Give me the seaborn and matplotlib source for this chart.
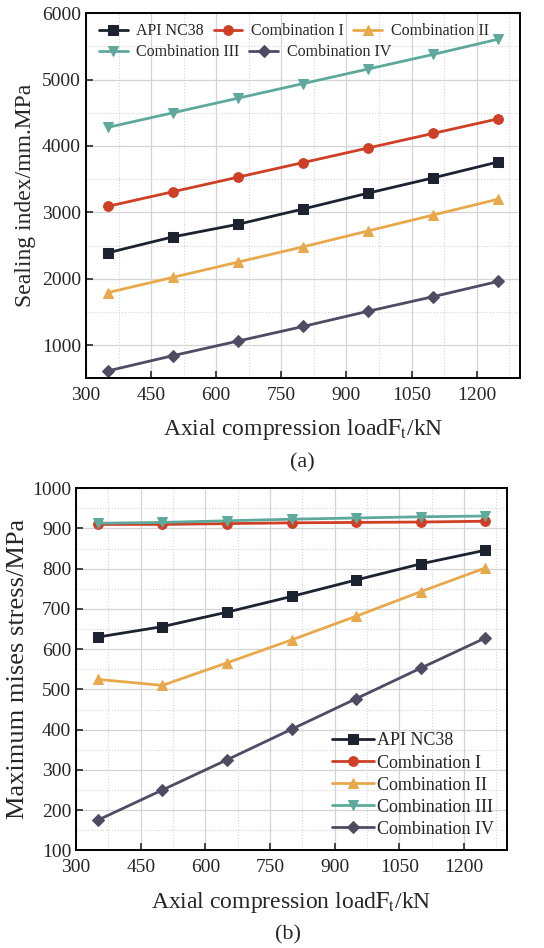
import numpy as np
import pandas as pd
import matplotlib
matplotlib.use("Agg")
import matplotlib.pyplot as plt
import seaborn as sns
from matplotlib.ticker import MultipleLocator

# Data
load = [350, 500, 650, 800, 950, 1100, 1250]
series_names = ["API NC38", "Combination I", "Combination II",
                "Combination III", "Combination IV"]

# (a) sealing index, mm.MPa
seal_api = [2390, 2630, 2820, 3050, 3290, 3520, 3760]
seal_c1 = [3090, 3310, 3530, 3750, 3970, 4190, 4410]
seal_c2 = [1790, 2020, 2250, 2480, 2720, 2960, 3200]
seal_c3 = [4280, 4500, 4720, 4940, 5160, 5380, 5610]
seal_c4 = [610, 840, 1060, 1280, 1510, 1730, 1960]

# (b) maximum mises stress, MPa
mises_api = [630, 656, 692, 731, 772, 812, 846]
mises_c1 = [910, 910, 912, 914, 915, 916, 918]
mises_c2 = [525, 510, 566, 623, 682, 743, 802]
mises_c3 = [913, 915, 919, 923, 926, 929, 931]
mises_c4 = [175, 250, 325, 401, 477, 553, 628]

colors = ["#1c2230", "#cf3f26", "#e8a94c", "#5ea99c", "#4f4b63"]
markers = ["s", "o", "^", "v", "D"]

sns.set_theme(style="ticks")
plt.rcParams["font.family"] = ["Liberation Serif", "DejaVu Serif"]
plt.rcParams["mathtext.fontset"] = "stix"


def build_df(values):
    rows = []
    for name, vals in zip(series_names, values):
        for x, y in zip(load, vals):
            rows.append({"load": x, "value": y, "series": name})
    return pd.DataFrame(rows)


def style_axes(ax, ylim, ymajor):
    ax.set_xlim(300, 1300)
    ax.set_ylim(*ylim)
    ax.xaxis.set_major_locator(MultipleLocator(150))
    ax.xaxis.set_minor_locator(MultipleLocator(75))
    ax.yaxis.set_major_locator(MultipleLocator(ymajor))
    ax.yaxis.set_minor_locator(MultipleLocator(ymajor / 2))
    ax.grid(which="major", color="#d4d4d4", linewidth=0.9)
    ax.grid(which="minor", color="#d4d4d4", linewidth=0.8, linestyle=":")
    ax.set_axisbelow(True)
    ax.tick_params(which="major", direction="in", length=5, width=1.2,
                   labelsize=14, top=False, right=False)
    ax.tick_params(axis="x", which="major", pad=6)
    ax.tick_params(which="minor", length=0)
    for s in ax.spines.values():
        s.set_linewidth(1.4)
        s.set_color("black")


fig = plt.figure(figsize=(5.44, 9.48), dpi=100)
ax1 = fig.add_axes([0.158, 0.601, 0.798, 0.385])
ax2 = fig.add_axes([0.140, 0.103, 0.792, 0.382])

df_a = build_df([seal_api, seal_c1, seal_c2, seal_c3, seal_c4])
df_b = build_df([mises_api, mises_c1, mises_c2, mises_c3, mises_c4])

for ax, df in [(ax1, df_a), (ax2, df_b)]:
    for name, c, m in zip(series_names, colors, markers):
        sub = df[df["series"] == name]
        sns.lineplot(data=sub, x="load", y="value", ax=ax, color=c,
                     marker=m, markersize=7 if m != "D" else 6,
                     markeredgecolor=c, linewidth=2, label=name)

style_axes(ax1, (500, 6000), 1000)
style_axes(ax2, (100, 1000), 100)

xlab = r"Axial compression load$\mathrm{F_t}$/kN"
ax1.set_xlabel(xlab, fontsize=17, labelpad=10)
ax1.set_ylabel("Sealing index/mm.MPa", fontsize=17, labelpad=4)
ax2.set_xlabel(xlab, fontsize=17, labelpad=10)
ax2.set_ylabel("Maximum mises stress/MPa", fontsize=19, labelpad=2)

# top legend: two independent rows (3 + 2 entries)
h, l = ax1.get_legend_handles_labels()
leg_kw = dict(frameon=False, fontsize=11.5, handlelength=1.8,
              handletextpad=0.55, columnspacing=0.6, borderaxespad=0.0,
              loc="upper left")
leg1 = ax1.legend(h[:3], l[:3], ncol=3, bbox_to_anchor=(0.015, 0.99), **leg_kw)
ax1.add_artist(leg1)
ax1.legend(h[3:], l[3:], ncol=2, bbox_to_anchor=(0.015, 0.932), **leg_kw)

ax2.legend(loc="lower right", frameon=False, fontsize=13,
           handlelength=2.3, handletextpad=0.2, labelspacing=0.28,
           borderaxespad=0.3)

fig.text(0.555, 0.512, "(a)", ha="center", va="center", fontsize=16)
fig.text(0.530, 0.014, "(b)", ha="center", va="center", fontsize=16)

fig.savefig("out.png", dpi=100)
